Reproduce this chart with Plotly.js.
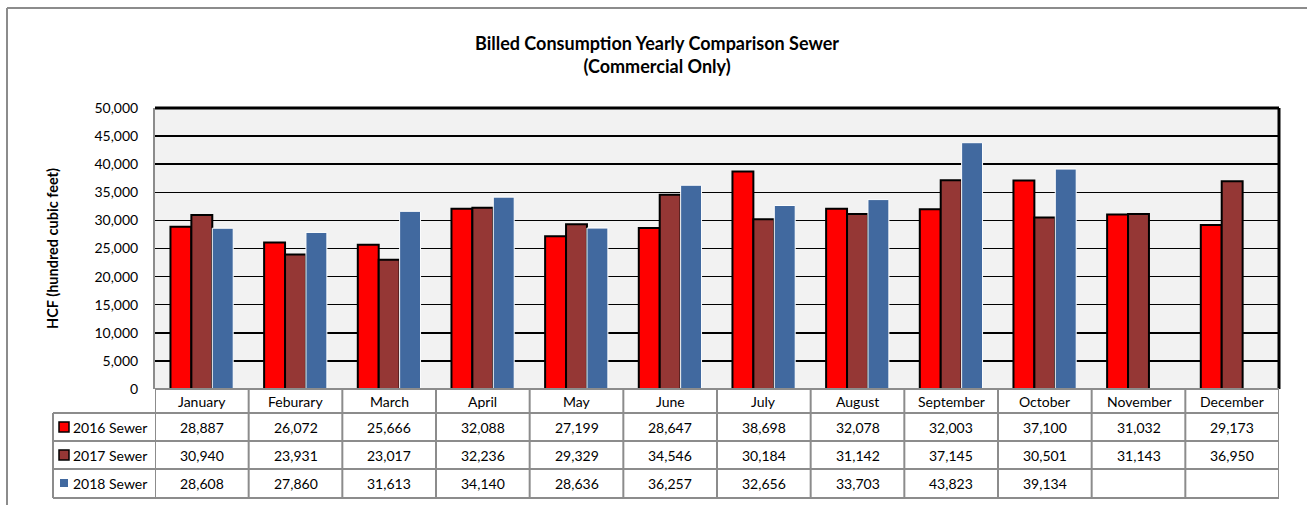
<!DOCTYPE html>
<html>
<head>
<meta charset="utf-8">
<script src="https://cdn.plot.ly/plotly-3.0.1.min.js"></script>
<style>html,body{margin:0;padding:0;background:#fff;}#chart{width:1307px;height:505px;}</style>
</head>
<body>
<div id="chart"></div>
<script>
const months = ["January","Feburary","March","April","May","June","July","August","September","October","November","December"];
const seriesNames = ["2016 Sewer","2017 Sewer","2018 Sewer"];
const sewer2016 = [28887,26072,25666,32088,27199,28647,38698,32078,32003,37100,31032,29173];
const sewer2017 = [30940,23931,23017,32236,29329,34546,30184,31142,37145,30501,31143,36950];
const sewer2018 = [28608,27860,31613,34140,28636,36257,32656,33703,43823,39134,null,null];
const yTicks = [0,5000,10000,15000,20000,25000,30000,35000,40000,45000,50000];

const W = 1307, H = 505;
const L = 155, R = 1279, T = 108, B = 389;
const pw = R - L, ph = B - T;
const px = x => (x - L) / pw;
const py = y => (B - y) / ph;

const FONT = "Lato, 'Liberation Sans', sans-serif";
const colors = ["#FF0000", "#953735", "#41699F"];
const lines = [{color:"#000", width:2}, {color:"#000", width:2}, {color:"#ffffff", width:1}];
const allSeries = [sewer2016, sewer2017, sewer2018];

const traces = allSeries.map((vals, i) => ({
  type: "bar", name: seriesNames[i], x: months, y: vals,
  marker: {color: colors[i], line: lines[i]},
  hoverinfo: "x+y+name"
}));

const shapes = [];
const annotations = [];
const gray = "#8c8c8c";

// outer frame
shapes.push({type:"line", xref:"paper", yref:"paper", x0:px(7), x1:px(1307), y0:py(8), y1:py(8), line:{color:"#8c8c8c", width:2}});
shapes.push({type:"line", xref:"paper", yref:"paper", x0:px(7), x1:px(7), y0:py(8), y1:py(505), line:{color:"#8c8c8c", width:2}});
// plot border top & right
shapes.push({type:"line", xref:"paper", yref:"paper", x0:0, x1:1, y0:1, y1:1, line:{color:"#000", width:3}});
shapes.push({type:"line", xref:"paper", yref:"paper", x0:1, x1:1, y0:0, y1:1, line:{color:"#000", width:3}});

// table grid
const rowY = [389, 413, 441, 469, 498];
rowY.forEach((y, k) => {
  shapes.push({type:"line", xref:"paper", yref:"paper", x0: k === 0 ? 0 : px(53), x1: 1, y0: py(y), y1: py(y), line:{color:gray, width:2}});
});
for (let c = 0; c <= months.length; c++) {
  shapes.push({type:"line", xref:"x", yref:"paper", x0: c - 0.5, x1: c - 0.5, y0: py(389), y1: py(498), line:{color:gray, width:2}});
}
shapes.push({type:"line", xref:"paper", yref:"paper", x0: px(53), x1: px(53), y0: py(413), y1: py(498), line:{color:gray, width:2}});

// month header
months.forEach((m, c) => {
  annotations.push({xref:"x", yref:"paper", x: m, y: py(401), text: m, showarrow:false, font:{family:FONT, size:14, color:"#000"}, xanchor:"center", yanchor:"middle"});
});
// values
const rowCenters = [427, 455, 483];
allSeries.forEach((vals, r) => {
  vals.forEach((v, c) => {
    if (v === null) return;
    annotations.push({xref:"x", yref:"paper", x: months[c], y: py(rowCenters[r]), text: v.toLocaleString("en-US"), showarrow:false, font:{family:FONT, size:14, color:"#000"}, xanchor:"center", yanchor:"middle"});
  });
  // legend key
  const cy = rowCenters[r];
  if (r < 2) {
    shapes.push({type:"rect", xref:"paper", yref:"paper", x0:px(59), x1:px(69), y0:py(cy+5), y1:py(cy-5), fillcolor: colors[r], line:{color:"#000", width:1.5}});
  } else {
    shapes.push({type:"rect", xref:"paper", yref:"paper", x0:px(60), x1:px(68), y0:py(cy+4), y1:py(cy-4), fillcolor: colors[r], line:{width:0}});
  }
  annotations.push({xref:"paper", yref:"paper", x: px(71), y: py(cy), text: seriesNames[r], showarrow:false, font:{family:FONT, size:14, color:"#000"}, xanchor:"left", yanchor:"middle"});
});

// y axis title
annotations.push({xref:"paper", yref:"paper", x: px(52), y: py(249), text:"<b>HCF (hundred cubic feet)</b>", textangle:-90, showarrow:false, font:{family:FONT, size:14.5, color:"#000"}, xanchor:"center", yanchor:"middle"});

const layout = {
  width: W, height: H,
  margin: {l: L, r: W - R, t: T, b: H - B, pad: 0},
  paper_bgcolor: "#ffffff",
  plot_bgcolor: "#F2F2F2",
  showlegend: false,
  barmode: "group",
  bargap: 0.33,
  bargroupgap: 0,
  title: {text: "<b>Billed Consumption Yearly Comparison Sewer<br>(Commercial Only)</b>", x: px(657), xref:"paper", xanchor:"center", y: 1 - 50/H, yanchor:"middle", font:{family:FONT, size:18, color:"#000"}},
  xaxis: {type:"category", showticklabels:false, showgrid:false, zeroline:false, showline:false, ticks:"", range:[-0.5, 11.5], fixedrange:true},
  yaxis: {range:[0, 50000], tickvals: yTicks, tickformat:",d", showgrid:true, gridcolor:"#000", gridwidth:1.5, zeroline:false,
          showline:true, linecolor:"#8c8c8c", linewidth:2, ticks:"", ticklabelstandoff: 12,
          tickfont:{family:FONT, size:14, color:"#000"}},
  shapes: shapes,
  annotations: annotations
};

Plotly.newPlot("chart", traces, layout, {displayModeBar:false, staticPlot:true});
</script>
</body>
</html>
